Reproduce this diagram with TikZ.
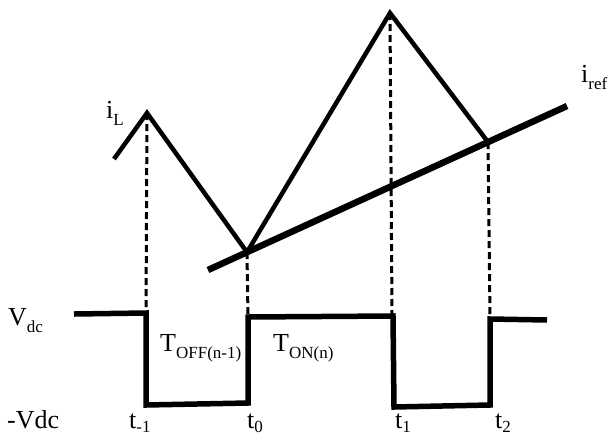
\documentclass[tikz,border=0pt]{standalone}
\usepackage{fontspec}
\setmainfont{Liberation Serif}
\usetikzlibrary{intersections,calc}
\newcommand\sbs[1]{\raisebox{-7pt}{\fontsize{17}{17}\selectfont #1}}
\newcommand\sbt[1]{\raisebox{-4pt}{\fontsize{17}{17}\selectfont #1}}
\tikzset{
  lbl/.style={inner sep=0pt,font=\fontsize{26}{30}\selectfont},
  curve/.style={line width=4.5pt,line join=miter},
  refline/.style={line width=6.5pt},
  wave/.style={line width=5.5pt,line join=miter},
  guide/.style={line width=3pt,dash pattern=on 7pt off 4pt}
}
\begin{document}
\begin{tikzpicture}[x=1pt,y=-1pt]
\useasboundingbox (0,0) rectangle (610,437);
% reference current line
\coordinate (r0) at (208,270);
\coordinate (r1) at (567,106);
\draw[refline] (r0) -- (r1);
% inductor current
\coordinate (a0) at (114,159);
\coordinate (p1) at (147,113);
\coordinate (m0) at ($(r0)!0.1086!(r1)$);
\coordinate (p2) at (390,13);
\coordinate (m1) at ($(r0)!0.78!(r1)$);
\draw[curve] (a0) -- (p1) -- (m0) -- (p2) -- (m1);
% square wave
\coordinate (w0) at (74,314);
\coordinate (w1) at (146,313);
\coordinate (w2) at (146,405);
\coordinate (w3) at (248,403);
\coordinate (w4) at (248,317);
\coordinate (w5) at (393,316);
\coordinate (w6) at (394,407);
\coordinate (w7) at (490,405);
\coordinate (w8) at (490,319);
\coordinate (w9) at (547,320);
\draw[wave] (w0) -- (w1) -- (w2) -- (w3) -- (w4) -- (w5) -- (w6) -- (w7) -- (w8) -- (w9);
% dashed guides
\draw[guide] (p1) -- (w1);
\draw[guide] (m0) -- (w4);
\draw[guide] (p2) -- (392,316);
\draw[guide] (m1) -- (w8);
% labels
\node[lbl,anchor=base west] (iL) at (106,118) {i\sbs{L}};
\node[lbl,anchor=base west] (iref) at (581,82) {i\sbs{ref}};
\node[lbl,anchor=base west] (vdc) at (8,325) {V\sbs{dc}};
\node[lbl,anchor=base west] (mvdc) at (7,428) {-Vdc};
\node[lbl,anchor=base west] (toff) at (160,351) {T\sbs{OFF(n-1)}};
\node[lbl,anchor=base west] (ton) at (273,351) {T\sbs{ON(n)}};
\node[lbl,anchor=base west] (tm1) at (129,428) {t\sbt{-1}};
\node[lbl,anchor=base west] (t0) at (247,428) {t\sbt{0}};
\node[lbl,anchor=base west] (t1) at (395,428) {t\sbt{1}};
\node[lbl,anchor=base west] (t2) at (495,428) {t\sbt{2}};
\end{tikzpicture}
\end{document}
